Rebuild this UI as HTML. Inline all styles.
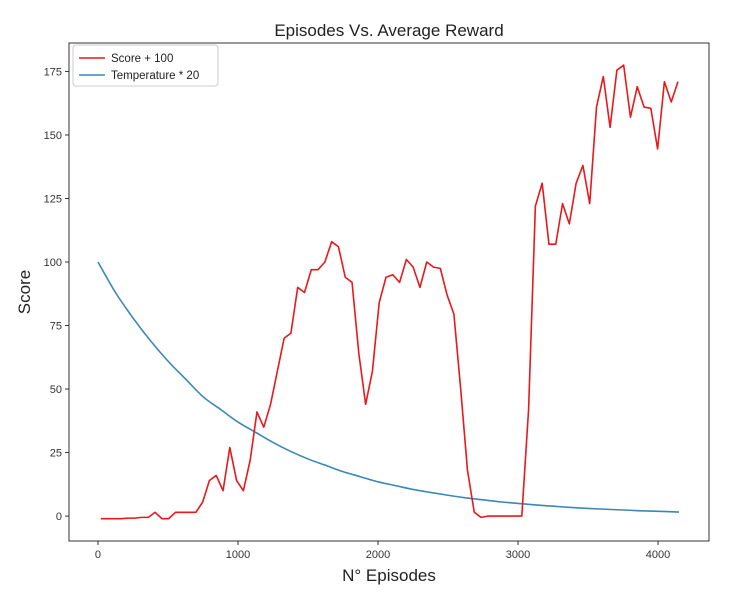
<!DOCTYPE html>
<html><head><meta charset="utf-8"><style>
body{margin:0;background:#fff;}
svg{display:block;font-family:"Liberation Sans","DejaVu Sans",sans-serif;}
</style></head><body>
<svg id="chart" width="742" height="593" viewBox="0 0 742 593">
<rect width="742" height="593" fill="#fff"/>
<text x="389" y="36" text-anchor="middle" font-size="17" fill="#222">Episodes Vs. Average Reward</text>
<text x="389" y="581" text-anchor="middle" font-size="17" fill="#222">N° Episodes</text>
<text transform="translate(30,292) rotate(-90)" text-anchor="middle" font-size="17" fill="#222">Score</text>
<g id="ticks"></g>
<g id="plot"></g>
<rect x="69" y="43" width="640" height="498" fill="none" stroke="#333" stroke-width="1"/>
<g>
<rect x="73" y="45" width="145" height="41" rx="3" fill="#fff" stroke="#ccc"/>
<line x1="79" y1="58" x2="105" y2="58" stroke="#e8181c" stroke-width="1.6"/>
<text x="111" y="62" font-size="11.5" fill="#222">Score + 100</text>
<line x1="79" y1="75" x2="105" y2="75" stroke="#3a87b8" stroke-width="1.6"/>
<text x="111" y="79" font-size="11.5" fill="#222">Temperature * 20</text>
</g>
</svg>
<script>
const scoreStart = 20;
const scoreStep = 48.5;
const scoreValues = [-1,-1,-1,-1,-0.8,-0.8,-0.5,-0.5,1.5,-1,-1,1.5,1.5,1.5,1.5,5.5,14,16,10,27,14,10,22,41,35,44,57,70,72,90,88,97,97,100,108,106,94,92,64,44,57,84,94,95,92,101,98,90,100,98,97.5,87,79.5,50,18,1.5,-0.5,0,0,0,0,0,0,42,122,131,107,107,123,115,131,138,123,161,173,153,175.5,177.5,157,169,161,160.5,144.5,171,163,171];
const tempEpisodes = [0,125,250,375,500,625,750,875,1000,1125,1250,1375,1500,1625,1750,1875,2000,2125,2250,2375,2500,2625,2750,2875,3000,3125,3250,3375,3500,3625,3750,3875,4000,4150];
const tempValues = [100,88,78,69,61,54,47,42,37,33,29,25.5,22.5,20,17.5,15.5,13.5,12,10.5,9.3,8.2,7.2,6.4,5.6,5,4.4,3.9,3.4,3,2.7,2.4,2.1,1.9,1.6];
const xTicks = [0,1000,2000,3000,4000];
const yTicks = [0,25,50,75,100,125,150,175];
const X0=69,X1=709,Y0=541,Y1=43, xmin=-207,xmax=4364,ymin=-9.8,ymax=186.2;
const xs=v=>X0+(v-xmin)/(xmax-xmin)*(X1-X0);
const ys=v=>Y0-(v-ymin)/(ymax-ymin)*(Y0-Y1);
const NS='http://www.w3.org/2000/svg';
const ticks=document.getElementById('ticks'), plot=document.getElementById('plot');
xTicks.forEach(t=>{
  const l=document.createElementNS(NS,'line');
  l.setAttribute('x1',xs(t));l.setAttribute('x2',xs(t));l.setAttribute('y1',Y0);l.setAttribute('y2',Y0+4);l.setAttribute('stroke','#333');
  
  
  ticks.appendChild(l);
  const tx=document.createElementNS(NS,'text');
  tx.setAttribute('x',xs(t));tx.setAttribute('y',Y0+17);tx.setAttribute('text-anchor','middle');tx.setAttribute('font-size','11');tx.setAttribute('fill','#333');
  tx.textContent=t;
  
  
  ticks.appendChild(tx);
});
yTicks.forEach(t=>{
  const l=document.createElementNS(NS,'line');
  l.setAttribute('x1',X0-4);l.setAttribute('x2',X0);l.setAttribute('y1',ys(t));l.setAttribute('y2',ys(t));l.setAttribute('stroke','#333');
  
  
  ticks.appendChild(l);
  const tx=document.createElementNS(NS,'text');
  tx.setAttribute('x',X0-7);tx.setAttribute('y',ys(t)+4);tx.setAttribute('text-anchor','end');tx.setAttribute('font-size','11');tx.setAttribute('fill','#333');
  tx.textContent=t;
  
  
  ticks.appendChild(tx);
});
// smooth path through temperature samples (Catmull-Rom)
const P=tempValues.map((v,i)=>[xs(tempEpisodes[i]),ys(v)]);
let d='M'+P[0][0]+','+P[0][1];
for(let i=0;i<P.length-1;i++){
  const p0=P[Math.max(0,i-1)],p1=P[i],p2=P[i+1],p3=P[Math.min(P.length-1,i+2)];
  const c1=[p1[0]+(p2[0]-p0[0])/6,p1[1]+(p2[1]-p0[1])/6];
  const c2=[p2[0]-(p3[0]-p1[0])/6,p2[1]-(p3[1]-p1[1])/6];
  d+=' C'+c1[0]+','+c1[1]+' '+c2[0]+','+c2[1]+' '+p2[0]+','+p2[1];
}
const bp=document.createElementNS(NS,'path');
bp.setAttribute('d',d);
bp.setAttribute('fill','none');bp.setAttribute('stroke','#3a87b8');bp.setAttribute('stroke-width','1.6');


plot.appendChild(bp);
const rp=document.createElementNS(NS,'polyline');
rp.setAttribute('points',scoreValues.map((v,i)=>xs(scoreStart+i*scoreStep)+','+ys(v)).join(' '));
rp.setAttribute('fill','none');rp.setAttribute('stroke','#e8181c');rp.setAttribute('stroke-width','1.6');rp.setAttribute('stroke-linejoin','round');


plot.appendChild(rp);
</script>
</body></html>
